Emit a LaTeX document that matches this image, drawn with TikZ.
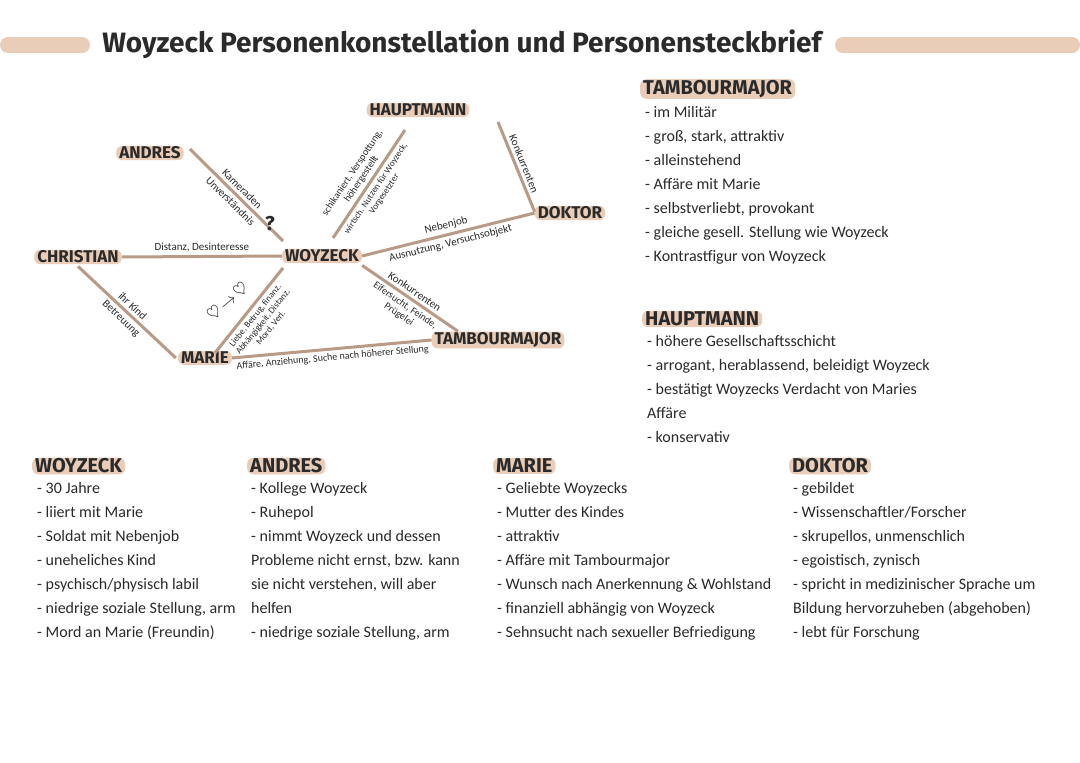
\documentclass[tikz,border=0pt]{standalone}
\usepackage{fontspec}
\setmainfont{Carlito}
\newfontfamily\headfont{Fira Sans}
\usetikzlibrary{positioning}
\definecolor{beige}{HTML}{E9CDB9}
\definecolor{linebrown}{HTML}{B89A86}
\definecolor{ink}{HTML}{2A2A2A}
\tikzset{
  person/.style={fill=beige,rounded corners=6pt,inner xsep=3pt,inner ysep=1pt,
    font=\headfont\bfseries\fontsize{17}{18}\selectfont,text=ink},
  head/.style={fill=beige,rounded corners=6pt,inner xsep=3pt,inner ysep=1pt,anchor=west,
    font=\headfont\bfseries\fontsize{20}{22}\selectfont,text=ink},
  rel/.style={linebrown,line width=3pt},
  lbl/.style={sloped,font=\fontsize{11}{12}\selectfont,text=ink,inner sep=3pt,align=center},
  info/.style={anchor=north west,align=left,font=\fontsize{16}{24}\selectfont,text=ink,inner sep=0pt}
}
\begin{document}
\begin{tikzpicture}[x=1pt,y=-1pt]
\useasboundingbox (0,0) rectangle (1080,763);
\fill[white] (0,0) rectangle (1080,763);

% title
\fill[beige,rounded corners=8pt] (0,37) rectangle (90,53);
\fill[beige,rounded corners=8pt] (835,37) rectangle (1080,53);
\node[font=\headfont\bfseries\fontsize{28}{30}\selectfont,text=ink] (title) at (462,44)
  {Woyzeck Personenkonstellation und Personensteckbrief};

% constellation
\node[person] (haupt) at (418,110) {HAUPTMANN};
\node[person] (andres) at (150,153) {ANDRES};
\node[person] (doktor) at (570,213) {DOKTOR};
\node[person] (christian) at (78,257) {CHRISTIAN};
\node[person] (woyzeck) at (322,256) {WOYZECK};
\node[person] (marie) at (205,358) {MARIE};
\node[person] (tambour) at (498,340) {TAMBOURMAJOR};
\coordinate (hd) at (498,122);
\coordinate (ha) at (405,130);
\coordinate (wa) at (283,241);
\coordinate (wh) at (333,238);
\coordinate (wm) at (283,268);

\draw[rel] ([xshift=6pt,yshift=4pt]andres.east) -- (wa)
  node[lbl,midway,above] {Kameraden} node[lbl,midway,below] {Unverständnis};
\node[font=\headfont\bfseries\fontsize{20}{20}\selectfont,text=ink] (qm) at (270,224) {?};
\draw[rel] (ha) -- (wh)
  node[lbl,pos=0.5,above,font=\fontsize{10}{11}\selectfont] {schikaniert, Verspottung,\\ höhergestellt}
  node[lbl,pos=0.5,below,font=\fontsize{9}{10}\selectfont] {wirtsch. Nutzen für Woyzeck,\\ Vorgesetzter};
\draw[rel] (hd) -- ([yshift=-6pt]doktor.north west)
  node[lbl,midway,above] {Konkurrenten};
\draw[rel] (woyzeck.east) -- (doktor.west)
  node[lbl,midway,above] {Nebenjob} node[lbl,midway,below] {Ausnutzung, Versuchsobjekt};
\draw[rel] (christian.east) -- (woyzeck.west)
  node[lbl,midway,above] {Distanz, Desinteresse};
\draw[rel] ([yshift=-2pt]woyzeck.south east) -- ([xshift=-40pt]tambour.north)
  node[lbl,midway,above] {Konkurrenten}
  node[lbl,midway,below,font=\fontsize{10}{11}\selectfont] {Eifersucht, Feinde,\\ Prügelei};
\draw[rel] (wm) -- ([xshift=10pt,yshift=-2pt]marie.north)
  node[lbl,midway,below,font=\fontsize{9}{10}\selectfont] {Liebe, Betrug, finanz.\\ Abhängigkeit, Distanz,\\ Mord, Verl.};
\node[font=\fontsize{18}{18}\selectfont,text=ink,rotate=40] (heart) at (228,302) {$\heartsuit\!\rightarrow\!\heartsuit$};
\draw[rel] ([yshift=-2pt]christian.south) -- ([xshift=-2pt]marie.west)
  node[lbl,midway,above] {ihr Kind} node[lbl,midway,below] {Betreuung};
\draw[rel] (marie.east) -- (tambour.west)
  node[lbl,midway,below,font=\fontsize{10}{11}\selectfont] {Affäre, Anziehung, Suche nach höherer Stellung};

% Tambourmajor
\node[head] (tamhead) at (640,89) {TAMBOURMAJOR};
\node[info] (taminfo) at (645,106) {- im Militär\\- groß, stark, attraktiv\\- alleinstehend\\- Affäre mit Marie\\- selbstverliebt, provokant\\- gleiche gesell. Stellung wie Woyzeck\\- Kontrastfigur von Woyzeck};
% Hauptmann
\node[head] (hauhead) at (642,319) {HAUPTMANN};
\node[info] (hauinfo) at (647,335) {- höhere Gesellschaftsschicht\\- arrogant, herablassend, beleidigt Woyzeck\\- bestätigt Woyzecks Verdacht von Maries\\Affäre\\- konservativ};

% bottom columns
\node[head] (wohead) at (32,466) {WOYZECK};
\node[info] (woinfo) at (37,482) {- 30 Jahre\\- liiert mit Marie\\- Soldat mit Nebenjob\\- uneheliches Kind\\- psychisch/physisch labil\\- niedrige soziale Stellung, arm\\- Mord an Marie (Freundin)};
\node[head] (anhead) at (247,466) {ANDRES};
\node[info] (aninfo) at (251,482) {- Kollege Woyzeck\\- Ruhepol\\- nimmt Woyzeck und dessen\\Probleme nicht ernst, bzw. kann\\sie nicht verstehen, will aber\\helfen\\- niedrige soziale Stellung, arm};
\node[head] (mahead) at (493,466) {MARIE};
\node[info] (mainfo) at (497,482) {- Geliebte Woyzecks\\- Mutter des Kindes\\- attraktiv\\- Affäre mit Tambourmajor\\- Wunsch nach Anerkennung \& Wohlstand\\- finanziell abhängig von Woyzeck\\- Sehnsucht nach sexueller Befriedigung};
\node[head] (dohead) at (789,466) {DOKTOR};
\node[info] (doinfo) at (793,482) {- gebildet\\- Wissenschaftler/Forscher\\- skrupellos, unmenschlich\\- egoistisch, zynisch\\- spricht in medizinischer Sprache um\\Bildung hervorzuheben (abgehoben)\\- lebt für Forschung};
\end{tikzpicture}
\end{document}
